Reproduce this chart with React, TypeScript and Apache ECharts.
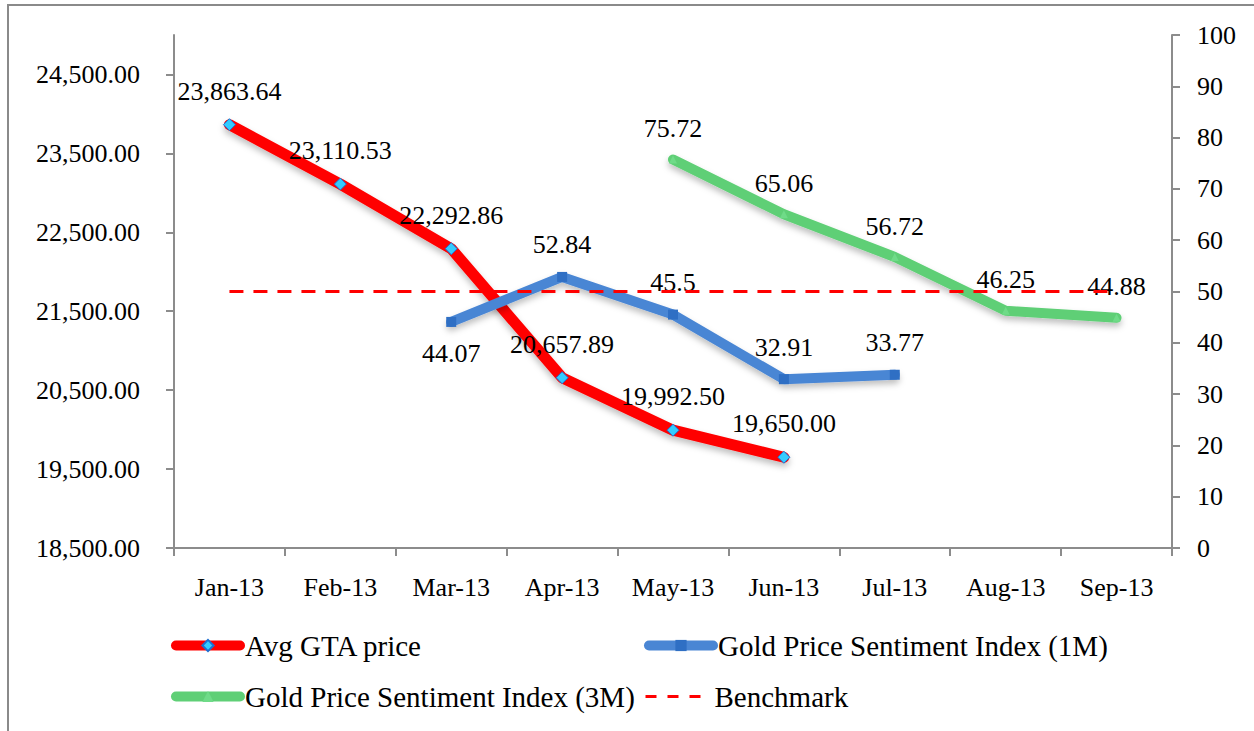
import React, { useEffect, useRef } from "react";
import * as echarts from "echarts";

const categories = ["Jan-13", "Feb-13", "Mar-13", "Apr-13", "May-13", "Jun-13", "Jul-13", "Aug-13", "Sep-13"];
const avgGta = [23863.64, 23110.53, 22292.86, 20657.89, 19992.5, 19650.0, null, null, null];
const sentiment1M = [null, null, 44.07, 52.84, 45.5, 32.91, 33.77, null, null];
const sentiment3M = [null, null, null, null, 75.72, 65.06, 56.72, 46.25, 44.88];
const benchmark = [50, 50, 50, 50, 50, 50, 50, 50, 50];
const leftTicks = [18500, 19500, 20500, 21500, 22500, 23500, 24500];
const label1MPos = ["top", "top", "bottom", "top", "top", "top", "top", "top", "top"];

const FONT = "'Liberation Serif', 'Times New Roman', serif";
const AXIS = "#8c8c8c";

export default function App() {
  const ref = useRef<HTMLDivElement>(null);
  useEffect(() => {
    const chart = echarts.init(ref.current!, null, { renderer: "svg" });
    const shadow = { shadowColor: "rgba(0,0,0,0.25)", shadowBlur: 6, shadowOffsetY: 4 };
    const lbl = { show: true, position: "top", distance: 14, color: "#000", fontFamily: FONT, fontSize: 26 };
    const legendBase = {
      itemWidth: 64,
      itemHeight: 14,
      itemGap: 0,
      textStyle: { fontFamily: FONT, fontSize: 29, color: "#000" },
      selectedMode: false,
      padding: 0,
    };
    chart.setOption({
      animation: false,
      backgroundColor: "#fff",
      textStyle: { fontFamily: FONT },
      graphic: [
        {
          type: "rect",
          shape: { x: 8, y: 5, width: 1300, height: 800 },
          style: { fill: "none", stroke: "#8a8a8a", lineWidth: 2 },
          silent: true,
        },
      ],
      legend: [
        {
          ...legendBase,
          data: [{ name: "Avg GTA price", lineStyle: { width: 10, cap: "round", color: "#ff0000" } }],
          left: 171,
          top: 631,
        },
        {
          ...legendBase,
          data: [{ name: "Gold Price Sentiment Index (1M)", lineStyle: { width: 10, cap: "round", color: "#4a86d4" } }],
          left: 644,
          top: 631,
        },
        {
          ...legendBase,
          data: [{ name: "Gold Price Sentiment Index (3M)", lineStyle: { width: 10, cap: "round", color: "#5fcf76" } }],
          left: 171,
          top: 682,
        },
        {
          ...legendBase,
          data: [
            {
              name: "Benchmark",
              lineStyle: { width: 3, color: "#ff0000", type: [11, 11] },
              itemStyle: { color: "rgba(0,0,0,0)", borderWidth: 0, opacity: 0 },
            },
          ],
          left: 644,
          top: 682,
        },
      ],
      grid: { left: 174, right: 82, top: 35, bottom: 183, containLabel: false },
      xAxis: {
        type: "category",
        data: categories,
        boundaryGap: true,
        axisLine: { lineStyle: { color: AXIS, width: 2 } },
        axisTick: { show: true, length: 8, lineStyle: { color: AXIS, width: 2 } },
        axisLabel: { color: "#000", fontFamily: FONT, fontSize: 26, margin: 26 },
        splitLine: { show: false },
      },
      yAxis: [
        {
          type: "value",
          min: 18500,
          max: 25000,
          interval: 1000,
          position: "left",
          axisLine: { show: true, lineStyle: { color: AXIS, width: 2 } },
          axisTick: { show: true, length: 8, lineStyle: { color: AXIS, width: 2 }, customValues: leftTicks },
          axisLabel: {
            color: "#000",
            fontFamily: FONT,
            fontSize: 26,
            margin: 34,
            customValues: leftTicks,
            formatter: (v: number) =>
              v.toLocaleString("en-US", { minimumFractionDigits: 2, maximumFractionDigits: 2 }),
          },
          splitLine: { show: false },
        },
        {
          type: "value",
          min: 0,
          max: 100,
          interval: 10,
          position: "right",
          axisLine: { show: true, lineStyle: { color: AXIS, width: 2 } },
          axisTick: { show: true, length: 8, lineStyle: { color: AXIS, width: 2 } },
          axisLabel: { color: "#000", fontFamily: FONT, fontSize: 26, margin: 25 },
          splitLine: { show: false },
        },
      ],
      series: [
        {
          name: "Avg GTA price",
          type: "line",
          yAxisIndex: 0,
          data: avgGta,
          symbol: "diamond",
          symbolSize: 12,
          showAllSymbol: true,
          lineStyle: { color: "#ff0000", width: 11, cap: "round", join: "round", ...shadow },
          itemStyle: { color: "#33ccff", borderColor: "#1f6fd0", borderWidth: 1 },
          label: {
            ...lbl,
            formatter: (p: any) =>
              Number(p.value).toLocaleString("en-US", { minimumFractionDigits: 2, maximumFractionDigits: 2 }),
          },
          z: 3,
        },
        {
          name: "Gold Price Sentiment Index (1M)",
          type: "line",
          yAxisIndex: 1,
          data: sentiment1M.map((v, i) =>
            v == null ? null : { value: v, label: { position: label1MPos[i] } }
          ),
          symbol: "rect",
          symbolSize: 10,
          lineStyle: { color: "#4a86d4", width: 10, cap: "round", join: "round", ...shadow },
          itemStyle: { color: "#2f6fc4", borderColor: "#2f6fc4", borderWidth: 0 },
          label: { ...lbl },
          z: 4,
        },
        {
          name: "Gold Price Sentiment Index (3M)",
          type: "line",
          yAxisIndex: 1,
          data: sentiment3M,
          symbol: "triangle",
          symbolSize: 8,
          lineStyle: { color: "#5fcf76", width: 10, cap: "round", join: "round", ...shadow },
          itemStyle: { color: "#6fdb88", borderWidth: 0 },
          label: { ...lbl },
          z: 2,
        },
        {
          name: "Benchmark",
          type: "line",
          yAxisIndex: 1,
          data: benchmark,
          symbol: "none",
          lineStyle: { color: "#ff0000", width: 3, type: [14, 10] },
          itemStyle: { color: "#ff0000" },
          z: 5,
        },
      ],
    });
    return () => chart.dispose();
  }, []);
  return (
    <div
      ref={ref}
      style={{ position: "fixed", left: 0, top: 0, width: 1254, height: 731, background: "#fff" }}
    />
  );
}
